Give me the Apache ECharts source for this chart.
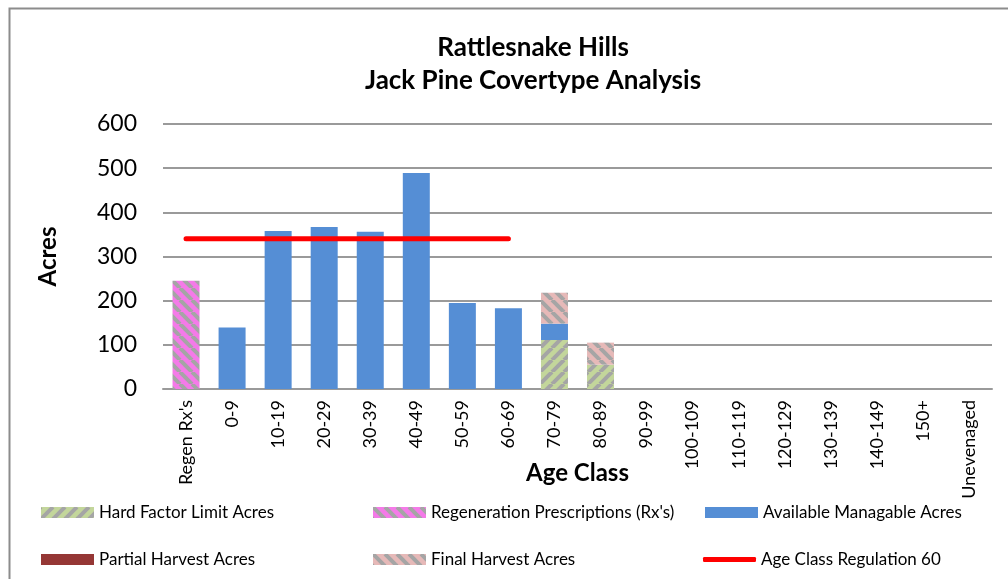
<!DOCTYPE html>
<html>
<head>
<meta charset="utf-8">
<script src="https://cdn.jsdelivr.net/npm/echarts@6/dist/echarts.min.js"></script>
<style>
  html, body { margin: 0; padding: 0; background: #fff; }
  #chart { width: 1008px; height: 579px; }
</style>
</head>
<body>
<div id="chart"></div>
<script>
// age classes along the x axis
const ageClasses = ['Regen Rx\'s', '0-9', '10-19', '20-29', '30-39', '40-49', '50-59', '60-69',
  '70-79', '80-89', '90-99', '100-109', '110-119', '120-129', '130-139', '140-149', '150+', 'Unevenaged']

// acres per age class (stacked)
const hardFactorAcres = [0, 0, 0, 0, 0, 0, 0, 0, 111, 55, 0, 0, 0, 0, 0, 0, 0, 0]
const regenRxAcres = [245, 0, 0, 0, 0, 0, 0, 0, 0, 0, 0, 0, 0, 0, 0, 0, 0, 0]
const availableAcres = [0, 139, 358, 367, 356, 489, 195, 183, 37, 0, 0, 0, 0, 0, 0, 0, 0, 0]
const partialHarvestAcres = [0, 0, 0, 0, 0, 0, 0, 0, 0, 0, 0, 0, 0, 0, 0, 0, 0, 0]
const finalHarvestAcres = [0, 0, 0, 0, 0, 0, 0, 0, 70, 50, 0, 0, 0, 0, 0, 0, 0, 0]
const regulationLine = [340, 340, 340, 340, 340, 340, 340, 340, null, null, null, null, null, null, null, null, null, null]

const yTicks = [0, 100, 200, 300, 400, 500, 600]

// diagonal hatch tiles like the excel pattern fills
const makeHatch = (bg, dir) => {
  const s = 12
  const c = document.createElement('canvas')
  c.width = s
  c.height = s
  const ctx = c.getContext('2d')
  ctx.fillStyle = bg
  ctx.fillRect(0, 0, s, s)
  ctx.strokeStyle = '#a5a5a5'
  ctx.lineWidth = 4
  for (let k = -1; k <= 1; k++) {
    ctx.beginPath()
    if (dir === 'back') {
      ctx.moveTo(k * s, 0)
      ctx.lineTo(k * s + s, s)
    } else {
      ctx.moveTo(k * s, s)
      ctx.lineTo(k * s + s, 0)
    }
    ctx.stroke()
  }
  return { image: c, repeat: 'repeat' }
}

const chart = echarts.init(document.getElementById('chart'))

const font = 'Lato'
const barSeries = (name, data, color) => ({
  name,
  type: 'bar',
  stack: 'acres',
  data,
  barWidth: 27,
  itemStyle: { color },
  emphasis: { disabled: true }
})

// one legend per item so the three columns line up like the original
const legendItem = (name, left, top, isLine) => ({
  left, top,
  padding: 0,
  itemWidth: 53,
  itemHeight: isLine ? 5 : 11,
  itemGap: 0,
  itemTextGap: 5,
  icon: isLine ? 'roundRect' : 'rect',
  data: [name],
  textStyle: { fontFamily: font, fontSize: 17, color: '#000' },
  selectedMode: false
})

chart.setOption({
  animation: false,
  textStyle: { fontFamily: font },
  title: {
    text: 'Rattlesnake Hills\nJack Pine Covertype Analysis',
    left: 528,
    top: 26,
    textAlign: 'center',
    textStyle: { fontFamily: font, fontSize: 26, fontWeight: 'bold', color: '#000', lineHeight: 33 }
  },
  graphic: [{
    type: 'rect',
    left: 7, top: 6,
    shape: { width: 1100, height: 700 },
    style: { fill: 'none', stroke: '#8c8c8c', lineWidth: 2 },
    silent: true
  }],
  legend: [
    legendItem('Hard Factor Limit Acres', 41, 504),
    legendItem('Partial Harvest Acres', 41, 551),
    legendItem('Regeneration Prescriptions (Rx\'s)', 373, 504),
    legendItem('Final Harvest Acres', 373, 551),
    legendItem('Available Managable Acres', 705, 504),
    legendItem('Age Class Regulation 60', 703, 551, true)
  ],
  grid: { left: 163, right: 16, top: 124, bottom: 190, containLabel: false },
  xAxis: {
    type: 'category',
    data: ageClasses,
    name: 'Age Class',
    nameLocation: 'middle',
    nameGap: 72,
    nameMoveOverlap: false,
    nameTextStyle: { fontFamily: font, fontSize: 24, fontWeight: 'bold', color: '#000' },
    axisLine: { lineStyle: { color: '#9a9a9a', width: 2 } },
    axisTick: { show: false },
    axisLabel: {
      interval: 0,
      rotate: 90,
      margin: 11,
      fontFamily: font,
      fontSize: 18,
      color: '#000'
    }
  },
  yAxis: {
    type: 'value',
    min: yTicks[0],
    max: yTicks[yTicks.length - 1],
    interval: 100,
    name: 'Acres',
    nameLocation: 'middle',
    nameRotate: 90,
    nameGap: 103,
    nameMoveOverlap: false,
    nameTextStyle: { fontFamily: font, fontSize: 24, fontWeight: 'bold', color: '#000' },
    axisLine: { show: false },
    axisTick: { show: false },
    axisLabel: { fontFamily: font, fontSize: 23, color: '#000', margin: 26 },
    splitLine: { lineStyle: { color: '#9a9a9a', width: 2 } }
  },
  series: [
    barSeries('Hard Factor Limit Acres', hardFactorAcres, makeHatch('#c3d69b', 'fwd')),
    barSeries('Regeneration Prescriptions (Rx\'s)', regenRxAcres, makeHatch('#f47ae8', 'back')),
    barSeries('Available Managable Acres', availableAcres, '#558ed5'),
    barSeries('Partial Harvest Acres', partialHarvestAcres, '#953735'),
    barSeries('Final Harvest Acres', finalHarvestAcres, makeHatch('#e6b9b8', 'back')),
    {
      name: 'Age Class Regulation 60',
      type: 'line',
      data: regulationLine,
      symbol: 'none',
      lineStyle: { color: '#ff0000', width: 5, cap: 'round' },
      itemStyle: { color: '#ff0000' },
      emphasis: { disabled: true },
      z: 5
    }
  ]
})
</script>
</body>
</html>
